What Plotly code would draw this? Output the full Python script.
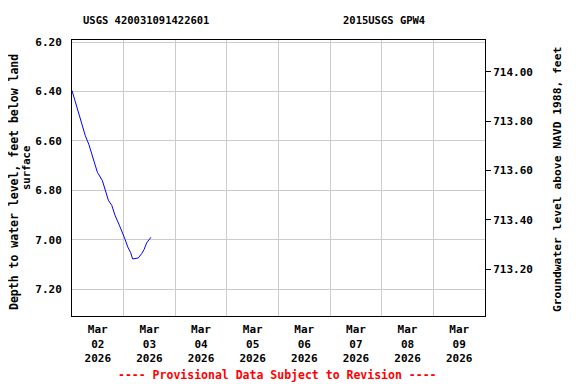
import plotly.graph_objects as go

times = ["2026-03-02 00:00", "2026-03-02 01:24", "2026-03-02 03:36", "2026-03-02 06:12",
         "2026-03-02 07:48", "2026-03-02 09:48", "2026-03-02 11:48", "2026-03-02 14:06",
         "2026-03-02 15:42", "2026-03-02 16:54", "2026-03-02 18:30", "2026-03-02 20:00",
         "2026-03-02 22:00", "2026-03-02 23:24", "2026-03-03 00:42", "2026-03-03 01:54",
         "2026-03-03 03:18", "2026-03-03 04:12", "2026-03-03 05:18", "2026-03-03 06:48",
         "2026-03-03 08:24", "2026-03-03 09:30", "2026-03-03 10:42", "2026-03-03 12:00",
         "2026-03-03 12:42"]
depth = [6.396, 6.438, 6.498, 6.579, 6.613, 6.667, 6.727, 6.760, 6.807, 6.840, 6.861, 6.901,
         6.941, 6.968, 6.999, 7.029, 7.053, 7.078, 7.075, 7.074, 7.056, 7.040, 7.013, 6.997, 6.990]

datum = 720.32
tick_dates = ["2026-03-02 12:00", "2026-03-03 12:00", "2026-03-04 12:00", "2026-03-05 12:00",
              "2026-03-06 12:00", "2026-03-07 12:00", "2026-03-08 12:00", "2026-03-09 12:00"]
tick_text = ["Mar<br>02<br>2026", "Mar<br>03<br>2026", "Mar<br>04<br>2026", "Mar<br>05<br>2026",
             "Mar<br>06<br>2026", "Mar<br>07<br>2026", "Mar<br>08<br>2026", "Mar<br>09<br>2026"]
left_ticks = [6.2, 6.4, 6.6, 6.8, 7.0, 7.2]
right_ticks = [713.2, 713.4, 713.6, 713.8, 714.0]

FONT = "DejaVu Sans Mono"
OFF = 8  # default body margin of the html page
W, H = 576 - OFF, 384 - OFF
PL, PR, PT, PB = 72, 485, 40, 316  # plot area in page pixels
L, R, T, B = PL - OFF, 576 - PR, PT - OFF, 384 - PB

fig = go.Figure()
fig.add_trace(go.Scatter(x=times, y=depth, mode="lines", line=dict(color="#0000ff", width=1),
                         showlegend=False, hoverinfo="skip"))
fig.add_trace(go.Scatter(x=times, y=[datum - d for d in depth], mode="lines", yaxis="y2",
                         line=dict(color="rgba(0,0,0,0)", width=0), showlegend=False, hoverinfo="skip"))

fig.update_layout(
    width=W, height=H, margin=dict(l=L, r=R, t=T, b=B, autoexpand=False),
    paper_bgcolor="white", plot_bgcolor="white",
    font=dict(family=FONT, size=11, color="black", weight="bold"),
    xaxis=dict(type="date", range=["2026-03-02 00:00", "2026-03-10 00:00"],
               tickvals=tick_dates, ticktext=tick_text, ticks="", showgrid=False,
               tickfont=dict(family=FONT, size=11, weight="bold"), ticklabelstandoff=3,
               minor=dict(dtick=86400000, tick0="2026-03-02", showgrid=True, gridcolor="#cccccc", gridwidth=1),
               showline=True, linecolor="black", linewidth=1, mirror=True, zeroline=False),
    yaxis=dict(range=[7.309, 6.191], tickvals=left_ticks, ticktext=[f"{v:.2f}" for v in left_ticks],
               ticks="", ticklabelstandoff=7, showgrid=True, gridcolor="#cccccc",
               tickfont=dict(family=FONT, size=11, weight="bold"),
               showline=True, linecolor="black", linewidth=1, mirror=True, zeroline=False),
    yaxis2=dict(range=[datum - 7.309, datum - 6.191], overlaying="y", side="right", anchor="x",
                tickvals=right_ticks, ticktext=[f"{v:.2f}" for v in right_ticks],
                ticks="outside", ticklen=5, tickcolor="black", showgrid=False, zeroline=False,
                tickfont=dict(family=FONT, size=11, weight="bold")),
)
plot_w = PR - PL
plot_h = PB - PT
anns = []
for text, px, py, anchor, color, size, angle in [
        ("USGS 420031091422601", 81, 20, "left", "black", 10.5, 0),
        ("2015USGS GPW4", 341, 20, "left", "black", 10.5, 0),
        ("---- Provisional Data Subject to Revision ----", 277, 375, "center", "red", 11.5, 0),
        ("Depth to water level, feet below land", 14, 182, "center", "black", 11.5, -90),
        ("surface", 26, 168, "center", "black", 10.5, -90),
        ("Groundwater level above NAVD 1988, feet", 557, 180, "center", "black", 11.3, -90)]:
    anns.append(dict(text=text, xref="paper", yref="paper", showarrow=False,
                     x=(px - PL) / plot_w, y=1 - (py - PT) / plot_h,
                     xanchor=anchor, yanchor="middle", textangle=angle,
                     font=dict(family=FONT, size=size, color=color, weight="bold")))
fig.update_layout(annotations=anns)

fig.write_html("out.html")
